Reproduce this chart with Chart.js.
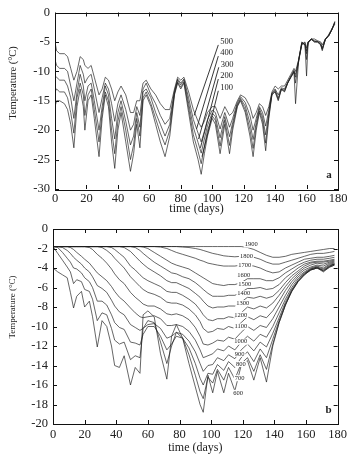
<!DOCTYPE html>
<html><head><meta charset="utf-8">
<script src="https://cdn.jsdelivr.net/npm/chart.js@4.4.1/dist/chart.umd.min.js"></script>
<style>
html,body{margin:0;padding:0;background:#fff;}
#wrap{position:relative;width:350px;height:457px;background:#fff;}
canvas{position:absolute;left:0;}
</style></head><body>
<div id="wrap">
<canvas id="ca" width="350" height="216" style="top:0;width:350px;height:216px"></canvas>
<canvas id="cb" width="350" height="241" style="top:216px;width:350px;height:241px"></canvas>
</div>
<script>
// ---------- Panel a ----------
const daysA = [0,1,3,6,8,10,12,14,16,18, 19,21,23,25,28,30,32,34,36,38, 40,42,45,48,50,52,54,56,58,61, 64,67,70,73,76,78,80,82,85,88, 91,93,95,97,100,102,105,108,111,113, 116,118,121,124,126,128,130,132,134,136, 138,140,142,144,146,148,150,152,153,155, 157,159,160,161,163,165,167,169,170,172, 174,176,178];
const a500 = [-5,-6.5,-7,-7,-7.5,-9.5,-11.5,-10,-7.5,-8, -9,-9.5,-9,-11,-14,-13,-11,-11.5,-13,-15, -13.5,-12.5,-14,-17,-17,-15,-15,-12,-11.5,-13, -14,-15.5,-16.5,-16.5,-13,-11,-11.5,-11,-13.5,-16.5, -18.5,-19.5,-18.5,-17,-16,-16,-18,-16,-17.5,-17, -15,-14,-14.5,-16,-18,-17,-15.5,-16,-17.5,-16, -13.5,-12.5,-13,-12.5,-12.5,-11.5,-10.5,-9.5,-10,-8, -5.5,-5,-6,-5,-4.5,-4.5,-4.8,-5,-5.5,-4.5, -3.8,-2.8,-2];
const a400 = [-8,-9,-9.5,-9.5,-10,-12.5,-15,-12,-9,-10.5, -12,-11,-10.5,-13,-17,-14.5,-12,-13,-15.5,-18.5, -15.5,-14,-16.5,-20,-19,-16,-17.5,-13,-12,-14, -15.5,-17.5,-19,-18,-13.3,-11.3,-12,-11.3,-14.5,-18.2, -20.5,-22,-20.2,-18.2,-16.6,-17,-19.8,-17,-19.5,-18, -15.3,-14.3,-15.3,-17.5,-20,-18,-16,-17,-19.3,-16.6, -13.7,-13,-14,-12.8,-13,-11.8,-10.8,-9.8,-11,-8, -5.2,-5.2,-7,-5,-4.5,-4.8,-4.9,-5.2,-6,-4.5, -3.9,-2.9,-1.8];
const a300 = [-11,-11,-11.5,-11.5,-12.5,-14.5,-18,-13.5,-10.5,-12.5, -15,-12.5,-12,-15,-20,-16,-12.5,-14,-18,-21.5, -17,-15,-18.5,-22.5,-21,-17,-19.5,-13.5,-13,-14.5, -17,-19,-21,-19,-13.6,-11.5,-12.3,-11.5,-15.4,-19.5, -22.1,-23.9,-21.5,-19.2,-17.1,-17.7,-21.3,-17.7,-21.1,-18.7, -15.6,-14.6,-15.9,-18.8,-21.6,-18.7,-16.3,-17.7,-20.8,-17.1, -13.8,-13.2,-14.5,-13,-13.2,-12,-11,-10.2,-10.5,-8.3, -5.3,-5.4,-6.5,-5.2,-4.6,-4.9,-5,-5.4,-6.2,-4.6, -4,-3,-1.7];
const a200 = [-13.5,-13,-13.5,-13.5,-14.5,-17,-20.5,-14.5,-12,-14, -17.5,-14,-13,-16.5,-22,-17,-13.5,-15,-20,-24, -18.5,-16,-20,-25,-22.5,-18,-21,-14.5,-13.5,-15.5, -18,-20.5,-22.5,-20,-13.8,-11.8,-12.7,-11.8,-16.2,-20.8, -23.6,-25.7,-22.8,-20.1,-17.6,-18.3,-22.7,-18.3,-22.6,-19.3, -15.8,-14.8,-16.5,-19.9,-23.1,-19.3,-16.7,-18.3,-22.2,-17.6, -13.9,-13.4,-14.8,-13.1,-13.4,-12,-11,-10,-12,-8.2, -5.1,-5.5,-8,-5.1,-4.5,-5,-5,-5.5,-6.3,-4.5, -4,-3,-1.6];
const a100 = [-16,-15,-15,-15.5,-16.5,-19,-23,-16,-13,-16, -20,-15,-14,-18,-24.5,-18,-14,-16,-22,-26.5, -20,-17,-22,-27,-24,-19,-23,-15,-14,-16, -19,-22,-24.5,-21,-14,-12,-13,-12,-17,-22, -25,-27.5,-24,-21,-18,-19,-24,-19,-24,-20, -16,-15,-17,-21,-24.5,-20,-17,-19,-23.5,-18, -14,-13.5,-15,-13,-13.5,-12,-11,-10,-15.5,-8, -5,-5.5,-10.8,-5,-4.5,-5,-5,-5.5,-6.5,-4.5, -4,-3,-1.5];
const namesA = ['500','400','300','200','100'];
const seriesA = [a500,a400,a300,a200,a100];

// ---------- Panel b ----------
const daysB = [0,3,6,9,11,13,15,18,20,23, 25,28,31,34,37,39,42,45,49,52, 55,57,60,64,68,72,75,78,82,86, 90,93,95,98,101,104,108,111,115,119, 123,127,131,135,139,143,147,151,155,159, 163,167,171,175,178];
const b600 = [-4.0,-4.4,-4.7,-5.0,-6.5,-8.1,-6.9,-6.4,-8.0,-7.4, -9.0,-12.1,-9.4,-10.0,-12.0,-14.0,-14.2,-13.0,-16.0,-14.2, -14.8,-8.8,-8.4,-9.0,-12.8,-15.4,-11.0,-9.8,-11.2,-13.8, -16.2,-18.0,-18.8,-15.0,-16.8,-14.6,-16.8,-14.8,-16.6,-14.0, -13.5,-15.5,-13.2,-15.7,-12.0,-9.6,-7.8,-6.3,-5.3,-4.6, -4.1,-3.9,-4.3,-3.8,-3.6];
const b700 = [-1.8,-2.5,-3.2,-3.9,-4.4,-5.6,-5.2,-5.4,-6.2,-6.4, -7.2,-9.4,-8.6,-8.8,-10.2,-11.4,-11.8,-11.6,-13.4,-13.0, -13.2,-10.2,-9.4,-9.6,-11.6,-13.8,-12.0,-10.6,-11.2,-12.9, -15.0,-16.7,-17.4,-15.2,-15.8,-14.4,-15.5,-14.2,-15.4,-13.8, -13.2,-14.6,-12.9,-14.4,-11.8,-9.6,-7.8,-6.4,-5.4,-4.7, -4.2,-4.0,-4.4,-3.9,-3.7];
const b800 = [-1.8,-1.9,-2.4,-3.0,-3.4,-4.0,-4.1,-4.5,-5.0,-5.4, -6.0,-7.4,-7.4,-7.8,-8.8,-9.6,-10.1,-10.3,-11.6,-11.7, -11.9,-10.8,-10.0,-10.0,-11.0,-12.4,-11.8,-11.0,-11.2,-12.2, -13.8,-15.3,-16.0,-14.8,-14.9,-13.9,-14.5,-13.6,-14.2,-13.2, -12.6,-13.6,-12.3,-13.2,-11.3,-9.4,-7.7,-6.4,-5.4,-4.7, -4.2,-4.0,-4.3,-3.9,-3.7];
const b900 = [-1.8,-1.8,-1.9,-2.2,-2.5,-2.9,-3.2,-3.6,-4.0,-4.4, -4.9,-5.8,-6.1,-6.5,-7.3,-7.9,-8.5,-8.8,-9.8,-10.1, -10.4,-10.2,-9.8,-9.7,-10.2,-11.2,-11.0,-10.6,-10.8,-11.5, -12.6,-13.8,-14.6,-14.0,-13.9,-13.2,-13.5,-12.9,-13.3,-12.4, -11.8,-12.5,-11.6,-12.1,-10.7,-9.1,-7.5,-6.2,-5.3,-4.6, -4.2,-4.0,-4.2,-3.8,-3.6];
const b1000 = [-1.8,-1.8,-1.8,-1.8,-1.9,-2.1,-2.4,-2.8,-3.1,-3.5, -3.9,-4.5,-4.9,-5.3,-5.9,-6.4,-7.0,-7.4,-8.1,-8.6, -9.0,-9.1,-9.0,-8.9,-9.2,-9.9,-9.9,-9.8,-10.0,-10.5, -11.4,-12.4,-13.2,-13.0,-12.8,-12.3,-12.5,-12.0,-12.4,-11.6, -11.0,-11.5,-10.8,-11.1,-10.0,-8.6,-7.2,-6.0,-5.1,-4.5, -4.1,-3.9,-4.1,-3.7,-3.6];
const b1100 = [-1.8,-1.8,-1.8,-1.8,-1.8,-1.8,-1.8,-1.8,-1.8,-1.9, -2.1,-2.6,-3.0,-3.5,-4.1,-4.6,-5.2,-5.6,-6.5,-7.0, -7.4,-7.7,-7.9,-7.9,-8.2,-8.7,-8.8,-8.7,-8.9,-9.3, -10.1,-11.0,-11.8,-11.9,-11.7,-11.4,-11.5,-11.1,-11.3,-10.6, -10.0,-10.4,-9.9,-10.1,-9.2,-8.0,-6.8,-5.7,-4.9,-4.4, -4.0,-3.8,-4.0,-3.6,-3.5];
const b1200 = [-1.8,-1.8,-1.8,-1.8,-1.8,-1.8,-1.8,-1.8,-1.8,-1.8, -1.8,-1.8,-1.9,-2.2,-2.6,-3.0,-3.5,-4.0,-4.9,-5.4, -5.9,-6.2,-6.5,-6.7,-7.0,-7.5,-7.6,-7.6,-7.8,-8.2, -8.8,-9.5,-10.2,-10.6,-10.5,-10.2,-10.3,-10.0,-10.2,-9.6, -9.0,-9.3,-8.9,-9.1,-8.4,-7.4,-6.3,-5.4,-4.7,-4.2, -3.9,-3.7,-3.8,-3.5,-3.4];
const b1300 = [-1.8,-1.8,-1.8,-1.8,-1.8,-1.8,-1.8,-1.8,-1.8,-1.8, -1.8,-1.8,-1.8,-1.8,-1.9,-2.1,-2.5,-2.9,-3.8,-4.2, -4.7,-5.0,-5.3,-5.6,-5.9,-6.4,-6.5,-6.5,-6.8,-7.2, -7.7,-8.3,-8.8,-9.3,-9.4,-9.2,-9.2,-9.0,-9.1,-8.6, -8.0,-8.2,-7.9,-8.1,-7.6,-6.8,-5.9,-5.1,-4.5,-4.0, -3.7,-3.5,-3.6,-3.4,-3.3];
const b1400 = [-1.8,-1.8,-1.8,-1.8,-1.8,-1.8,-1.8,-1.8,-1.8,-1.8, -1.8,-1.8,-1.8,-1.8,-1.8,-1.8,-1.8,-1.9,-2.3,-2.8, -3.3,-3.6,-4.0,-4.4,-4.8,-5.3,-5.5,-5.5,-5.8,-6.1, -6.6,-7.0,-7.4,-7.9,-8.1,-8.0,-8.0,-7.9,-7.9,-7.5, -7.0,-7.1,-6.9,-7.1,-6.9,-6.3,-5.5,-4.8,-4.3,-3.8, -3.5,-3.4,-3.4,-3.3,-3.2];
const b1500 = [-1.8,-1.8,-1.8,-1.8,-1.8,-1.8,-1.8,-1.8,-1.8,-1.8, -1.8,-1.8,-1.8,-1.8,-1.8,-1.8,-1.8,-1.8,-1.8,-1.9, -2.2,-2.5,-2.9,-3.4,-3.8,-4.2,-4.5,-4.6,-4.9,-5.1, -5.5,-5.9,-6.2,-6.6,-6.9,-6.9,-6.9,-6.8,-6.8,-6.5, -6.1,-6.1,-6.0,-6.2,-6.1,-5.7,-5.0,-4.5,-4.0,-3.6, -3.4,-3.3,-3.3,-3.2,-3.1];
const b1600 = [-1.8,-1.8,-1.8,-1.8,-1.8,-1.8,-1.8,-1.8,-1.8,-1.8, -1.8,-1.8,-1.8,-1.8,-1.8,-1.8,-1.8,-1.8,-1.8,-1.8, -1.8,-1.85,-2.0,-2.4,-2.8,-3.2,-3.5,-3.7,-3.9,-4.1, -4.5,-4.8,-5.0,-5.3,-5.6,-5.7,-5.8,-5.7,-5.7,-5.5, -5.1,-5.1,-5.1,-5.3,-5.3,-5.0,-4.5,-4.1,-3.7,-3.4, -3.2,-3.1,-3.1,-3.0,-2.9];
const b1700 = [-1.8,-1.8,-1.8,-1.8,-1.8,-1.8,-1.8,-1.8,-1.8,-1.8, -1.8,-1.8,-1.8,-1.8,-1.8,-1.8,-1.8,-1.8,-1.8,-1.8, -1.8,-1.8,-1.8,-1.8,-1.85,-2.0,-2.2,-2.4,-2.6,-2.8, -3.0,-3.2,-3.3,-3.5,-3.6,-3.7,-3.8,-3.8,-3.8,-3.7, -3.7,-3.8,-4.0,-4.3,-4.5,-4.4,-4.0,-3.7,-3.4,-3.1, -3.0,-2.9,-2.9,-2.8,-2.7];
const b1800 = [-1.8,-1.8,-1.8,-1.8,-1.8,-1.8,-1.8,-1.8,-1.8,-1.8, -1.8,-1.8,-1.8,-1.8,-1.8,-1.8,-1.8,-1.8,-1.8,-1.8, -1.8,-1.8,-1.8,-1.8,-1.8,-1.8,-1.8,-1.8,-1.85,-1.9, -2.0,-2.1,-2.2,-2.35,-2.5,-2.6,-2.75,-2.8,-2.85,-2.8, -2.8,-2.9,-3.1,-3.4,-3.6,-3.6,-3.4,-3.2,-3.0,-2.8, -2.6,-2.5,-2.5,-2.4,-2.3];
const b1900 = [-1.8,-1.8,-1.8,-1.8,-1.8,-1.8,-1.8,-1.8,-1.8,-1.8, -1.8,-1.8,-1.8,-1.8,-1.8,-1.8,-1.8,-1.8,-1.8,-1.8, -1.8,-1.8,-1.8,-1.8,-1.8,-1.8,-1.8,-1.8,-1.8,-1.8, -1.8,-1.8,-1.8,-1.8,-1.8,-1.8,-1.8,-1.8,-1.8,-1.8, -1.9,-2.1,-2.4,-2.7,-2.9,-2.9,-2.8,-2.6,-2.5,-2.4, -2.3,-2.2,-2.1,-2.0,-2.0];
const namesB = ['600','700','800','900','1000','1100','1200','1300','1400','1500','1600','1700','1800','1900'];
const seriesB = [b600,b700,b800,b900,b1000,b1100,b1200,b1300,b1400,b1500,b1600,b1700,b1800,b1900];

const xTicks = [0,20,40,60,80,100,120,140,160,180];
const yTicksA = [0,-5,-10,-15,-20,-25,-30];
const yTicksB = [0,-2,-4,-6,-8,-10,-12,-14,-16,-18,-20];

// curve-label anchors (day, temperature) for panel b, in order of namesB
const labelDaysB = [117,118,118.8,118,118.8,118.8,118.8,120,120.7,121.3,120.7,121.3,122.3,125.3];
const labelTempB = [-16.8,-15.3,-13.85,-12.8,-11.56,-10.0,-8.8,-7.6,-6.6,-5.64,-4.7,-3.76,-2.84,-1.6];
// panel a labels and leader lines: [label day, label temp, line end day, line end temp]
const leadA = [[104.5,-5.0,88.5,-17.5],[104.5,-6.9,90,-19.8],[104.8,-8.8,91.3,-21.5],[104.5,-10.8,92.5,-23],[104.5,-12.8,93.5,-24.5]];

const SERIF = "'Liberation Serif','DejaVu Serif','Times New Roman',serif";
const INK = '#222';

function boxPlugin(id, panelLetter, yTitle, yTitleY, yTitleSize, extra){
  return {
    id: id,
    afterDraw(chart){
      const c = chart.ctx, a = chart.chartArea, xs = chart.scales.x, ys = chart.scales.y;
      c.save();
      c.strokeStyle = '#111'; c.lineWidth = 1;
      c.strokeRect(Math.round(a.left)+0.5, Math.round(a.top)+0.5, Math.round(a.right-a.left), Math.round(a.bottom-a.top));
      c.beginPath();
      xTicks.forEach(v=>{ const px = Math.round(xs.getPixelForValue(v))+0.5;
        c.moveTo(px,a.bottom); c.lineTo(px,a.bottom-4);
        c.moveTo(px,a.top); c.lineTo(px,a.top+4); });
      ys.ticks.forEach(t=>{ const py = Math.round(ys.getPixelForValue(t.value))+0.5;
        c.moveTo(a.left,py); c.lineTo(a.left+4,py);
        c.moveTo(a.right,py); c.lineTo(a.right-4,py); });
      c.stroke();
      c.fillStyle = INK;
      c.font = yTitleSize+'px '+SERIF;
      c.textAlign = 'center'; c.textBaseline = 'middle';
      c.translate(13, yTitleY); c.rotate(-Math.PI/2);
      c.fillText(yTitle, 0, 0);
      c.restore();
      c.save();
      c.fillStyle = INK; c.font = 'bold 11px '+SERIF; c.textAlign='center'; c.textBaseline='middle';
      c.fillText(panelLetter, a.right-9, a.bottom-14);
      c.restore();
      if (extra) extra(chart);
    }
  };
}

function makeOpts(yTicks, yMin, leftW, bottomH, padTop, xTickPad, xTitlePad){
  return {
    responsive:false, animation:false, devicePixelRatio:1,
    layout:{padding:{top:padTop,right:12,left:0,bottom:0}},
    plugins:{legend:{display:false}, tooltip:{enabled:false}},
    elements:{point:{radius:0}, line:{tension:0}},
    scales:{
      x:{type:'linear', min:0, max:180,
         afterBuildTicks:s=>{s.ticks = xTicks.map(v=>({value:v}));},
         afterFit:s=>{s.height = bottomH;},
         grid:{display:false, drawTicks:false}, border:{display:false},
         ticks:{padding:xTickPad, color:INK, font:{family:SERIF,size:12.5}, maxRotation:0, autoSkip:false},
         title:{display:true, text:'time (days)', color:INK, font:{family:SERIF,size:12}, padding:{top:0,bottom:xTitlePad}}},
      y:{type:'linear', min:yMin, max:0,
         afterBuildTicks:s=>{s.ticks = yTicks.map(v=>({value:v}));},
         afterFit:s=>{s.width = leftW;},
         grid:{display:false, drawTicks:false}, border:{display:false},
         ticks:{padding:5, color:INK, font:{family:SERIF,size:12.5}, autoSkip:false}}
    }
  };
}

function ds(days, arr){
  return {data: days.map((d,i)=>({x:d, y:arr[i]})), borderColor:'rgba(30,30,30,0.85)', borderWidth:0.8, pointRadius:0, fill:false};
}

new Chart(document.getElementById('ca'), {
  type:'line',
  data:{datasets: seriesA.map(s=>ds(daysA,s))},
  options: makeOpts(yTicksA, -30, 55, 27, 4, 2, 0),
  plugins:[boxPlugin('boxA','a','Temperature (°C)', 83, 10.5, chart=>{
    const c = chart.ctx, xs = chart.scales.x, ys = chart.scales.y;
    c.save();
    c.strokeStyle = '#222'; c.lineWidth = 0.9; c.fillStyle = INK;
    c.font = '8.5px '+SERIF; c.textAlign='left'; c.textBaseline='middle';
    leadA.forEach((L,i)=>{
      const x1 = xs.getPixelForValue(L[0]), y1 = ys.getPixelForValue(L[1]);
      const x2 = xs.getPixelForValue(L[2]), y2 = ys.getPixelForValue(L[3]);
      c.beginPath(); c.moveTo(x1-1,y1+3); c.lineTo(x2,y2); c.stroke();
      c.fillText(namesA[i], x1+1, y1);
    });
    c.restore();
  })]
});

new Chart(document.getElementById('cb'), {
  type:'line',
  data:{datasets: seriesB.map(s=>ds(daysB,s))},
  options: makeOpts(yTicksB, -20, 53, 33, 13, 3, 2),
  plugins:[boxPlugin('boxB','b','Temperature (°C)', 91, 9, chart=>{
    const c = chart.ctx, xs = chart.scales.x, ys = chart.scales.y;
    c.save();
    c.font = '6.5px '+SERIF; c.textAlign='center'; c.textBaseline='middle';
    namesB.forEach((n,i)=>{
      const px = xs.getPixelForValue(labelDaysB[i]), py = ys.getPixelForValue(labelTempB[i]);
      const w = c.measureText(n).width;
      c.fillStyle = '#fff'; c.fillRect(px-w/2-1, py-3, w+2, 6);
      c.fillStyle = INK; c.fillText(n, px, py);
    });
    c.restore();
  })]
});
</script>
</body></html>
